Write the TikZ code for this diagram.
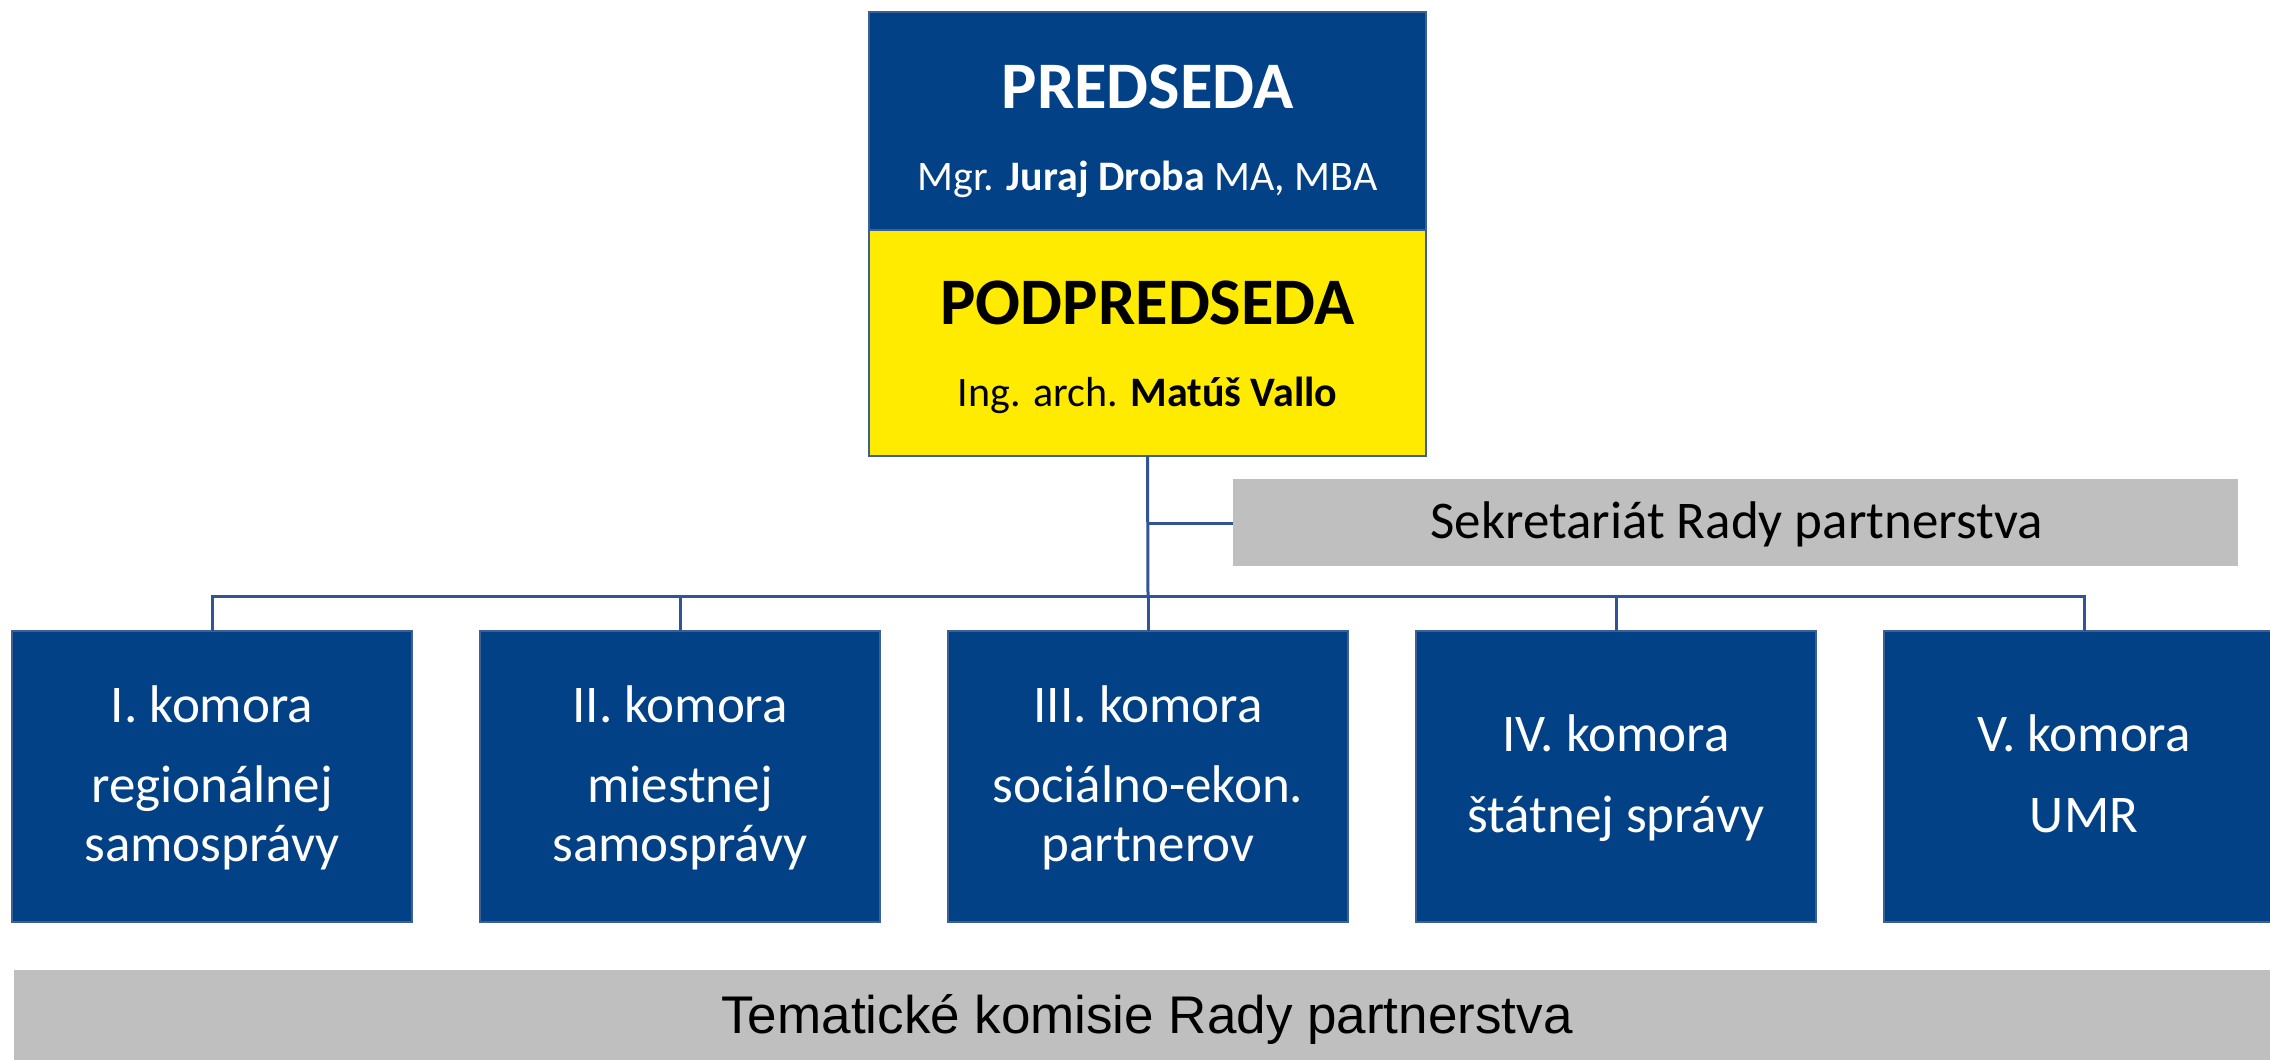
\documentclass[tikz,border=0pt]{standalone}
\usepackage{fontspec}
\setmainfont{Carlito}
\newfontfamily\arialfont{Liberation Sans}
\definecolor{boxblue}{RGB}{3,65,135}
\definecolor{boxyellow}{RGB}{255,235,0}
\definecolor{boxgray}{RGB}{191,191,191}
\definecolor{linkblue}{RGB}{47,85,151}
\definecolor{edgeblue}{RGB}{60,95,150}
\tikzset{
  topbox/.style={draw=edgeblue, line width=1.5pt, inner sep=0pt, outer sep=0pt, minimum width=557pt},
  komora/.style={draw=edgeblue, line width=1.5pt, fill=boxblue, inner sep=0pt, outer sep=0pt, minimum width=400pt, minimum height=291pt},
  graybox/.style={fill=boxgray, inner sep=0pt, outer sep=0pt},
  link/.style={draw=linkblue, line width=3pt},
  kt/.style={anchor=base, text=white, font=\fontsize{53}{60}\selectfont, inner sep=0pt},
  titletext/.style={anchor=base, font=\fontsize{66.5}{72}\selectfont\bfseries, inner sep=0pt},
  nametext/.style={anchor=base, font=\fontsize{42}{48}\selectfont, inner sep=0pt}
}
\begin{document}
\begin{tikzpicture}[x=1pt,y=-1pt]
\useasboundingbox (0,0) rectangle (2270,1060);
\clip (0,0) rectangle (2270,1060);
\fill[white] (0,0) rectangle (2270,1060);

% top boxes
\node[topbox, fill=boxblue, minimum height=218pt] (pred) at (1147.5,121) {};
\node[topbox, fill=boxyellow, minimum height=226pt] (podpred) at (1147.5,343) {};
\node[titletext, text=white] (predt) at (1147.5,108) {PREDSEDA};
\node[nametext, text=white] (predn) at (1147.5,190) {Mgr. \textbf{Juraj Droba} MA, MBA};
\node[titletext, text=black] (podt) at (1147.5,324) {PODPREDSEDA};
\node[nametext, text=black] (podn) at (1147.5,406) {Ing. arch. \textbf{Matúš Vallo}};

% secretariat
\node[graybox, minimum width=1005pt, minimum height=87pt] (sekr) at (1735.5,522.5) {};
\node[anchor=base, font=\fontsize{53}{60}\selectfont, inner sep=0pt] (sekrt) at (1736.5,538) {Sekretariát Rady partnerstva};

% chambers
\node[komora] (k1) at (212,776.5) {};
\node[komora] (k2) at (680,776.5) {};
\node[komora] (k3) at (1148,776.5) {};
\node[komora] (k4) at (1616,776.5) {};
\node[komora] (k5) at (2084,776.5) {};

\node[kt] (k1a) at (212,722) {I. komora};
\node[kt] (k1b) at (212,802) {regionálnej};
\node[kt] (k1c) at (212,861) {samosprávy};
\node[kt] (k2a) at (680,722) {II. komora};
\node[kt] (k2b) at (680,802) {miestnej};
\node[kt] (k2c) at (680,861) {samosprávy};
\node[kt] (k3a) at (1148,722) {III. komora};
\node[kt] (k3b) at (1148,802) {sociálno-ekon.};
\node[kt] (k3c) at (1148,861) {partnerov};
\node[kt] (k4a) at (1616,751) {IV. komora};
\node[kt] (k4b) at (1616,832) {štátnej správy};
\node[kt] (k5a) at (2084,751) {V. komora};
\node[kt] (k5b) at (2084,832) {UMR};

% bottom bar
\node[graybox, minimum width=2270pt, minimum height=100pt] (tem) at (1149,1020) {};
\node[anchor=base, font=\arialfont\fontsize{53}{60}\selectfont, inner sep=0pt] (temt) at (1147,1033) {Tematické komisie Rady partnerstva};

% connectors
\coordinate (bus) at (1148,596);
\coordinate (sj) at (1148,523);
\draw[link] (podpred.south) -- (bus);
\draw[link] (sj) -- (sekr.west |- sj);
\draw[link] (k1.north) -- (k1.north |- bus) -- (k5.north |- bus) -- (k5.north);
\draw[link] (k2.north) -- (k2.north |- bus);
\draw[link] (k3.north) -- (k3.north |- bus);
\draw[link] (k4.north) -- (k4.north |- bus);
\end{tikzpicture}
\end{document}
